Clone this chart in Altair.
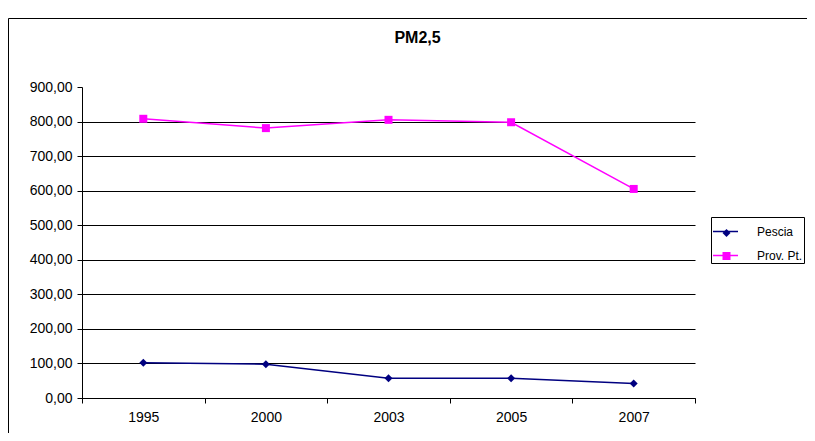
import altair as alt
import pandas as pd

years = ["1995", "2000", "2003", "2005", "2007"]
pescia = [102, 98, 57, 57, 42]
prov_pt = [808, 781, 805, 798, 605]
series = ["Pescia", "Prov. Pt."]
colors = ["#000080", "#FF00FF"]
markers = ["diamond", "square"]
y_ticks = [0, 100, 200, 300, 400, 500, 600, 700, 800, 900]

rows = []
for name, vals in zip(series, [pescia, prov_pt]):
    for yr, v in zip(years, vals):
        rows.append({"anno": yr, "serie": name, "valore": v})
df = pd.DataFrame(rows)

# separate keys for the marker legend, so it is not merged with the line legend
marker_keys = [s + " " for s in series]

FONT = "Liberation Sans, Arial"

x_enc = alt.X(
    "anno:N", sort=years, title=None,
    scale=alt.Scale(type="band", paddingInner=0, paddingOuter=0),
    axis=alt.Axis(tickBand="extent", domainColor="black", tickColor="black",
                  tickSize=5, labelFontSize=14, labelFont=FONT, labelColor="black",
                  labelPadding=7, labelAngle=0, grid=False),
)
y_enc = alt.Y(
    "valore:Q", title=None,
    scale=alt.Scale(domain=[0, 900], nice=False),
    axis=alt.Axis(values=y_ticks, labelExpr="replace(format(datum.value, '.2f'), '.', ',')",
                  domainColor="black", tickColor="black", tickSize=5,
                  labelFontSize=14, labelFont=FONT, labelColor="black", labelPadding=5,
                  grid=True, gridColor="black", gridWidth=1,
                  gridOpacity={"condition": {"test": "datum.value >= 900", "value": 0}, "value": 1}),
)

base = alt.Chart(df)

border = alt.Chart(alt.Data(values=[{"k": 1}])).mark_rect(
    fillOpacity=0, stroke="black", strokeWidth=1
).encode(x=alt.value(-73.5), x2=alt.value(760), y=alt.value(-68.5), y2=alt.value(400))

# legend with the line symbols and the visible labels
leg_lines = alt.Legend(
    title=None, orient="none", legendX=629, legendY=130, strokeColor="black", fillColor="white",
    padding=1, symbolSize=625, symbolStrokeWidth=1.5,
    labelFontSize=12, labelFont=FONT, labelColor="black", rowPadding=4, labelOffset=18, zindex=1,
)
# legend with the markers only, laid over the first one
leg_marks = alt.Legend(
    title=None, orient="none", legendX=640.5, legendY=142, padding=0,
    symbolSize=64, symbolStrokeWidth=0, labelFontSize=1, labelFont=FONT,
    labelOpacity=0, rowPadding=15, zindex=2,
)

lines = base.mark_line(strokeWidth=1.5).encode(
    x=x_enc, y=y_enc,
    color=alt.Color("serie:N", scale=alt.Scale(domain=series, range=colors), legend=leg_lines),
    detail="serie:N",
)
points = base.transform_calculate(marker="datum.serie + ' '").mark_point(
    filled=True, size=64, opacity=1
).encode(
    x=x_enc, y=y_enc,
    fill=alt.Fill("marker:N", scale=alt.Scale(domain=marker_keys, range=colors), legend=leg_marks),
    shape=alt.Shape("marker:N", scale=alt.Scale(domain=marker_keys, range=markers), legend=leg_marks),
)

chart = alt.layer(border, lines, points).properties(
    width=613, height=311,
    title=alt.Title("PM2,5", fontSize=16, fontWeight="bold", font=FONT, color="black",
                    frame="group", anchor="middle", dx=29, offset=-28),
    padding={"left": 74, "top": 79, "right": 112, "bottom": 35},
    autosize=alt.AutoSizeParams(type="none"),
    background="white",
).configure_view(stroke=None)

chart.save("out.html", embed_options={"renderer": "svg", "actions": False})
